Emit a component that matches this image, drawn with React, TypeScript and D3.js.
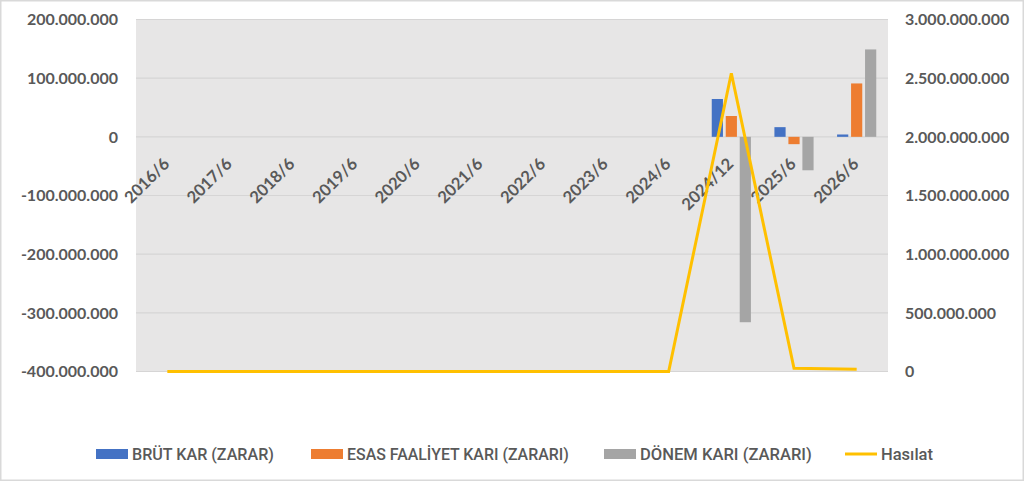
import React, { useRef, useEffect } from 'react';
import * as d3 from 'd3';

const categories = ['2016/6', '2017/6', '2018/6', '2019/6', '2020/6', '2021/6', '2022/6', '2023/6', '2024/6', '2024/12', '2025/6', '2026/6'];
const brutKar = [0, 0, 0, 0, 0, 0, 0, 0, 0, 64500000, 16500000, 4000000];
const esasFaaliyet = [0, 0, 0, 0, 0, 0, 0, 0, 0, 35500000, -12500000, 91000000];
const donemKari = [0, 0, 0, 0, 0, 0, 0, 0, 0, -316000000, -57000000, 149000000];
const hasilat = [0, 0, 0, 0, 0, 0, 0, 0, 0, 2542000000, 27000000, 19000000];
const leftTicks = [-400000000, -300000000, -200000000, -100000000, 0, 100000000, 200000000];
const rightTicks = [0, 500000000, 1000000000, 1500000000, 2000000000, 2500000000, 3000000000];

const barSeries = [
  { name: 'BRÜT KAR (ZARAR)', values: brutKar, color: '#4472C4' },
  { name: 'ESAS FAALİYET KARI (ZARARI)', values: esasFaaliyet, color: '#ED7D31' },
  { name: 'DÖNEM KARI (ZARARI)', values: donemKari, color: '#A5A5A5' },
];
const lineName = 'Hasılat';
const lineColor = '#FFC000';

const W = 1024;
const H = 481;

const App: React.FC = () => {
  const svgRef = useRef<SVGSVGElement>(null);

  useEffect(() => {
    if (!svgRef.current) return;
    const svg = d3.select(svgRef.current);
    svg.selectAll('*').remove();

    const plot = { left: 136, right: 888, top: 19.5, bottom: 371.5 };
    const locale = d3.formatLocale({ decimal: ',', thousands: '.', grouping: [3], currency: ['', ''], minus: '-' });
    const fmt = locale.format(',');

    const x = d3.scaleBand().domain(categories).range([plot.left, plot.right]).padding(0);
    const groupWidth = x.bandwidth() * 0.625;
    const xSub = d3.scaleBand()
      .domain(barSeries.map(s => s.name))
      .range([-groupWidth / 2, groupWidth / 2])
      .paddingInner(0.2);
    const yL = d3.scaleLinear().domain([-400000000, 200000000]).range([plot.bottom, plot.top]);
    const yR = d3.scaleLinear().domain([0, 3000000000]).range([plot.bottom, plot.top]);

    // background + border
    svg.append('rect').attr('x', 0.75).attr('y', 0.75).attr('width', W - 1.5).attr('height', H - 1.5)
      .attr('fill', '#ffffff').attr('stroke', '#d9d9d9').attr('stroke-width', 1.5);

    svg.append('rect')
      .attr('x', plot.left).attr('y', plot.top)
      .attr('width', plot.right - plot.left).attr('height', plot.bottom - plot.top)
      .attr('fill', '#e7e6e6');

    // Grid lines
    svg.append('g').selectAll('line').data(leftTicks).join('line')
      .attr('x1', plot.left).attr('x2', plot.right)
      .attr('y1', d => yL(d)).attr('y2', d => yL(d))
      .attr('stroke', '#d6d5d5').attr('stroke-width', 1.2);

    const tickFont = 'Lato, "Open Sans", sans-serif';

    // Left axis labels
    svg.append('g').selectAll('text').data(leftTicks).join('text')
      .attr('x', 118).attr('y', d => yL(d)).attr('dy', '0.36em')
      .attr('text-anchor', 'end')
      .style('font-family', tickFont).style('font-size', '16px').style('font-weight', 'bold')
      .style('fill', '#595959')
      .text(d => fmt(d));

    // Right axis labels
    svg.append('g').selectAll('text').data(rightTicks).join('text')
      .attr('x', 905).attr('y', d => yR(d)).attr('dy', '0.36em')
      .attr('text-anchor', 'start')
      .style('font-family', tickFont).style('font-size', '16px').style('font-weight', 'bold')
      .style('fill', '#595959')
      .text(d => fmt(d));

    // Bars
    barSeries.forEach(s => {
      svg.append('g').selectAll('rect').data(s.values.map((v, i) => ({ v, c: categories[i] }))).join('rect')
        .attr('x', d => x(d.c)! + x.bandwidth() / 2 + xSub(s.name)!)
        .attr('width', xSub.bandwidth())
        .attr('y', d => Math.min(yL(d.v), yL(0)))
        .attr('height', d => Math.abs(yL(d.v) - yL(0)))
        .attr('fill', s.color);
    });

    // Category labels
    svg.append('g').selectAll('text').data(categories).join('text')
      .attr('transform', d => `translate(${x(d)! + x.bandwidth() / 2 - 1},${161}) rotate(-45)`)
      .attr('dy', '0.35em')
      .attr('text-anchor', 'end')
      .style('font-family', tickFont).style('font-size', '16.5px').style('font-weight', 'bold')
      .style('fill', '#595959')
      .text(d => d);

    // Line
    const line = d3.line<number>()
      .x((_, i) => x(categories[i])! + x.bandwidth() / 2)
      .y(d => yR(d));
    svg.append('path')
      .datum(hasilat)
      .attr('d', line)
      .attr('fill', 'none')
      .attr('stroke', lineColor)
      .attr('stroke-width', 3)
      .attr('stroke-linejoin', 'miter');

    // Legend (condensed text, squeezed horizontally to the reference widths)
    const legendFont = 'Roboto, "Noto Sans", sans-serif';
    const legendY = 454;
    const legendItems = [
      ...barSeries.map(s => ({ name: s.name, color: s.color, type: 'bar' })),
      { name: lineName, color: lineColor, type: 'line' },
    ];
    const legendX = [96, 311, 604, 845];
    const legendTextW = [142, 222, 172, 52];
    const swatchW = 32;
    const lg = svg.append('g');
    legendItems.forEach((item, i) => {
      const gx = legendX[i];
      if (item.type === 'bar') {
        lg.append('rect').attr('x', gx).attr('y', legendY - 5).attr('width', swatchW).attr('height', 10).attr('fill', item.color);
      } else {
        lg.append('line').attr('x1', gx).attr('x2', gx + swatchW).attr('y1', legendY).attr('y2', legendY)
          .attr('stroke', item.color).attr('stroke-width', 3);
      }
      const t = lg.append('text')
        .attr('x', 0).attr('y', 0).attr('dy', '0.36em')
        .style('font-family', legendFont).style('font-size', '16px').style('font-weight', 500)
        .style('fill', '#595959')
        .text(item.name);
      const natural = (t.node() as SVGTextElement).getComputedTextLength() || legendTextW[i];
      t.attr('transform', `translate(${gx + swatchW + 4},${legendY}) scale(${legendTextW[i] / natural},1)`);
    });
  }, []);

  return (
    <svg
      ref={svgRef}
      width={W}
      height={H}
      style={{ position: 'absolute', left: 0, top: 0, background: '#fff' }}
    />
  );
};

export default App;
